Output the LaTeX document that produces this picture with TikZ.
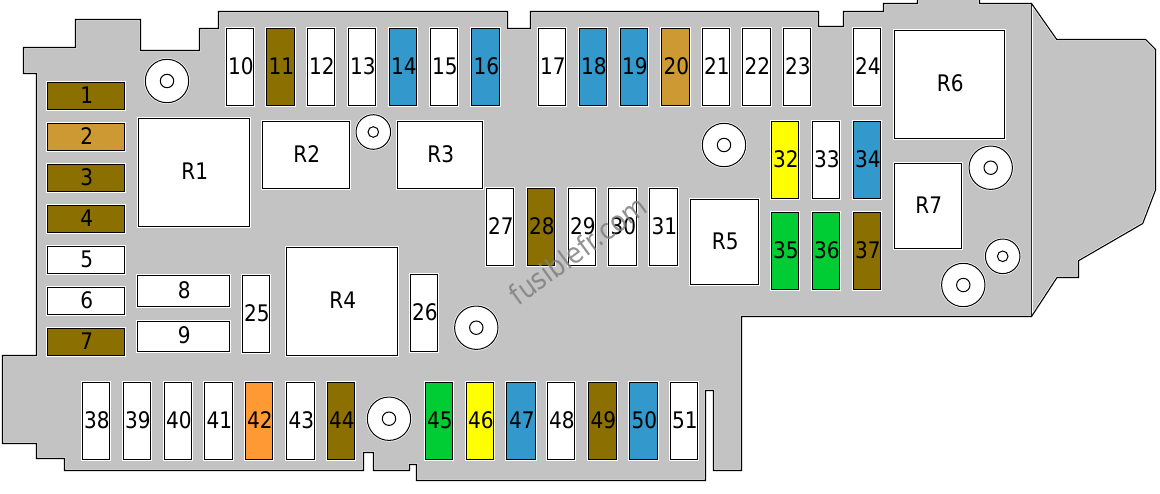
\documentclass[tikz,border=0pt]{standalone}
\usepackage{fontspec}
\setmainfont{DejaVu Sans}[FakeStretch=0.88]
\definecolor{casegray}{HTML}{C3C3C3}
\definecolor{fbrown}{HTML}{8B6F00}
\definecolor{ftan}{HTML}{CC9933}
\definecolor{fblue}{HTML}{3399CC}
\definecolor{fgreen}{HTML}{00CC33}
\definecolor{fyellow}{HTML}{FFFF00}
\definecolor{forange}{HTML}{FF9933}
\tikzset{
  fusebox/.style={draw=black,line width=1pt,inner sep=0pt,outer sep=0pt,font=\fontsize{22.8}{26}\selectfont,text=black,text depth=2pt,
    preaction={draw=white,line width=2.6pt}},
  screwouter/.style={circle,draw=black,fill=white,line width=1pt,inner sep=0pt,outer sep=0pt,preaction={draw=white,line width=2.4pt}},
  screwinner/.style={circle,draw=black,fill=white,line width=1pt,inner sep=0pt,outer sep=0pt},
  watermark/.style={text=black!50,opacity=.85,font=\fontsize{28.5}{32}\selectfont,inner sep=0pt}
}
% name, x1, y1, x2, y2, colour, label
\newcommand\fusebx[7]{%
  \pgfmathsetmacro\fxa{floor(#2)+0.5}\pgfmathsetmacro\fya{floor(#3)+0.5}%
  \pgfmathsetmacro\fxb{floor(#4)+0.5}\pgfmathsetmacro\fyb{floor(#5)+0.5}%
  \pgfmathsetmacro\fw{\fxb-\fxa}\pgfmathsetmacro\fh{\fyb-\fya}%
  \pgfmathsetmacro\fcx{(\fxa+\fxb)/2}\pgfmathsetmacro\fcy{(\fya+\fyb)/2}%
  \node[fusebox,fill=#6,minimum width=\fw pt,minimum height=\fh pt] (#1) at (\fcx,\fcy) {\kern1.6pt #7};}
% name, cx, cy, outer r, inner r
\newcommand\screwat[5]{%
  \node[screwouter,minimum size=#4*2pt] (#1) at (#2,#3) {};
  \node[screwinner,minimum size=#5*2pt] (#1i) at (#2,#3) {};}
\newcommand\caseoutline{(23.5,47.5)--(75.5,47.5)--(75.5,19.5)--(140.5,19.5)--(140.5,50.5)--(199.5,50.5)--(199.5,28.5)--(218.5,28.5)--(218.5,11.5)
  --(507.5,11.5)--(507.5,28.5)--(530.5,28.5)--(530.5,11.5)--(818.5,11.5)--(818.5,26.5)--(843.5,26.5)--(843.5,11.5)--(883.5,11.5)--(883.5,3.5)
  --(917.5,3.5)--(917.5,-2)--(979.5,-2)--(979.5,3.5)--(1031.5,3.5)--(1056.7,39.5)--(1145.7,39.5)--(1155.5,49.5)--(1155.5,190)--(1142.7,223.5)
  --(1078.5,260.7)--(1078.5,277.5)--(1057,277.5)--(1031.5,316.5)--(741.5,316.5)--(741.5,470.5)--(713.5,470.5)--(713.5,390.5)--(705.5,390.5)
  --(705.5,480.5)--(416.5,480.5)--(416.5,464.5)--(409.5,464.5)--(409.5,470.5)--(373.5,470.5)--(373.5,452.5)--(363.5,452.5)--(363.5,470.5)
  --(64.5,470.5)--(64.5,458.5)--(36.5,458.5)--(36.5,443.5)--(2.5,443.5)--(2.5,355.5)--(36.5,355.5)--(36.5,73.5)--(23.5,73.5)--cycle}
\begin{document}
\begin{tikzpicture}[x=1pt,y=-1pt]
\useasboundingbox (0,0) rectangle (1160,493);
\begin{scope}
\clip (0,0) rectangle (1160,493);
\path[fill=casegray] \caseoutline;
\draw[white,line width=2.4pt,line join=miter] \caseoutline;
\draw[white,line width=1.4pt] (1032.5,3.5) -- (1032.5,316.5);
\draw[black!85,line width=.9pt] (1031.5,3.5) coordinate (seamtop) -- (1031.5,316.5) coordinate (seambot);
\draw[black,line width=1.1pt,line join=miter] \caseoutline;
\end{scope}
% left column
\fusebx{f1}{47.3}{82}{124.4}{109.3}{fbrown}{1}
\fusebx{f2}{47.3}{123.3}{124.4}{150.6}{ftan}{2}
\fusebx{f3}{47.3}{164.3}{124.4}{191.6}{fbrown}{3}
\fusebx{f4}{47.3}{205.3}{124.4}{232.6}{fbrown}{4}
\fusebx{f5}{47.3}{246.3}{124.4}{273.6}{white}{5}
\fusebx{f6}{47.3}{287.3}{124.4}{314.6}{white}{6}
\fusebx{f7}{47.3}{328}{124.4}{355.3}{fbrown}{7}
\fusebx{f8}{137.3}{275}{229}{306}{white}{8}
\fusebx{f9}{137.3}{321}{229}{351.7}{white}{9}
% top row
\fusebx{f10}{226.7}{28.3}{253.7}{105.4}{white}{10}
\fusebx{f11}{266.7}{28.3}{294.7}{105.4}{fbrown}{11}
\fusebx{f12}{307.4}{28.3}{334.4}{105.4}{white}{12}
\fusebx{f13}{348.4}{28.3}{375.7}{105.4}{white}{13}
\fusebx{f14}{389.4}{28.3}{416.7}{105.4}{fblue}{14}
\fusebx{f15}{430}{28.3}{457.7}{105.4}{white}{15}
\fusebx{f16}{471}{28.3}{499}{105.4}{fblue}{16}
\fusebx{f17}{538.4}{28.3}{565.7}{105.4}{white}{17}
\fusebx{f18}{579.4}{28.3}{606.7}{105.4}{fblue}{18}
\fusebx{f19}{620.4}{28.3}{647.7}{105.4}{fblue}{19}
\fusebx{f20}{661.3}{28.3}{689}{105.4}{ftan}{20}
\fusebx{f21}{702.4}{28.3}{729.7}{105.4}{white}{21}
\fusebx{f22}{742.7}{28.3}{770.4}{105.4}{white}{22}
\fusebx{f23}{783.4}{28.3}{810.7}{105.4}{white}{23}
\fusebx{f24}{853.4}{28.3}{880.7}{105.4}{white}{24}
% relays
\fusebx{r1}{138.4}{118.4}{249}{226}{white}{R1}
\fusebx{r2}{262.4}{121.4}{349}{188.2}{white}{R2}
\fusebx{r3}{397.3}{121.4}{482.7}{188.2}{white}{R3}
\fusebx{r4}{286.7}{247}{397}{355.3}{white}{R4}
\fusebx{r5}{690.4}{199.3}{758}{284.4}{white}{R5}
\fusebx{r6}{894.4}{30}{1004.4}{138.4}{white}{R6}
\fusebx{r7}{894.4}{163.4}{961.7}{248.7}{white}{R7}
% middle
\fusebx{f25}{242.3}{275.4}{269.4}{352.7}{white}{25}
\fusebx{f26}{410.3}{274.4}{437.7}{351.7}{white}{26}
\fusebx{f27}{486.3}{188.3}{513.7}{265.4}{white}{27}
\fusebx{f28}{527.3}{188.3}{554.7}{265.4}{fbrown}{28}
\fusebx{f29}{568.3}{188.3}{595.7}{265.4}{white}{29}
\fusebx{f30}{608.4}{188.3}{636.7}{265.4}{white}{30}
\fusebx{f31}{649.4}{188.3}{677.7}{265.4}{white}{31}
\fusebx{f32}{771.3}{121.4}{798.4}{198.4}{fyellow}{32}
\fusebx{f33}{812.4}{121.4}{839.7}{198.4}{white}{33}
\fusebx{f34}{853.4}{121.4}{880.7}{198.4}{fblue}{34}
\fusebx{f35}{771.3}{212.4}{798.4}{289.4}{fgreen}{35}
\fusebx{f36}{812.4}{212.4}{839.7}{289.4}{fgreen}{36}
\fusebx{f37}{853.4}{212.4}{880.7}{289.4}{fbrown}{37}
% bottom row
\fusebx{f38}{82.4}{382.4}{109.7}{459.4}{white}{38}
\fusebx{f39}{123.4}{382.4}{150.7}{459.4}{white}{39}
\fusebx{f40}{164.4}{382.4}{191.7}{459.4}{white}{40}
\fusebx{f41}{204.4}{382.4}{232.7}{459.4}{white}{41}
\fusebx{f42}{245.4}{382.4}{272.7}{459.4}{forange}{42}
\fusebx{f43}{286.4}{382.4}{314.7}{459.4}{white}{43}
\fusebx{f44}{327.4}{382.4}{354.7}{459.4}{fbrown}{44}
\fusebx{f45}{425}{382.4}{452.7}{459.4}{fgreen}{45}
\fusebx{f46}{466.4}{382.4}{493.7}{459.4}{fyellow}{46}
\fusebx{f47}{506.4}{382.4}{535}{459.4}{fblue}{47}
\fusebx{f48}{547.4}{382.4}{574.7}{459.4}{white}{48}
\fusebx{f49}{588}{382.4}{616.7}{459.4}{fbrown}{49}
\fusebx{f50}{629}{382.4}{657.7}{459.4}{fblue}{50}
\fusebx{f51}{670.4}{382.4}{697.7}{459.4}{white}{51}
% screws
\screwat{s1}{167}{81}{21.7}{6.7}
\screwat{s2}{373.3}{132}{17.3}{5.3}
\screwat{s3}{724}{145}{21.7}{6.7}
\screwat{s4}{990.7}{167.7}{21.7}{6.7}
\screwat{s5}{1002.7}{256.3}{17.3}{5.3}
\screwat{s6}{963.3}{285}{21.7}{6.7}
\screwat{s7}{476.3}{327.7}{21.7}{6.7}
\screwat{s8}{389}{418.7}{21.7}{6.7}
\node[watermark,rotate=36] (wm) at (578,250) {fusiblefr.com};
\end{tikzpicture}
\end{document}
